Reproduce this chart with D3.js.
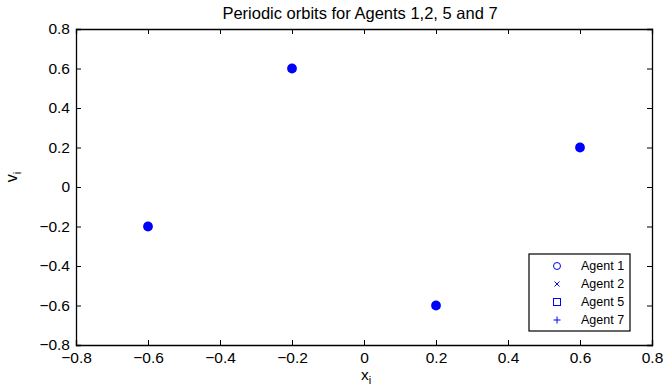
<!DOCTYPE html>
<html>
<head>
<meta charset="utf-8">
<script src="https://cdn.jsdelivr.net/npm/d3@7"></script>
<style>
  body { margin: 0; background: #fff; }
  svg { font-family: "Liberation Sans", Arial, sans-serif; }
</style>
</head>
<body>
<svg id="chart" width="664" height="388"></svg>
<script>
// periodic orbit points (same for every agent)
const agents = ["Agent 1", "Agent 2", "Agent 5", "Agent 7"];
const markers = ["circle", "x", "square", "plus"];
const orbitX = [-0.2, 0.6, -0.6, 0.2];
const orbitV = [0.6, 0.2, -0.2, -0.6];
const xTicks = [-0.8, -0.6, -0.4, -0.2, 0, 0.2, 0.4, 0.6, 0.8];
const yTicks = [-0.8, -0.6, -0.4, -0.2, 0, 0.2, 0.4, 0.6, 0.8];

const margin = { top: 29, right: 12, bottom: 43, left: 76 },
    width = 664 - margin.left - margin.right,
    height = 388 - margin.top - margin.bottom;

const svg = d3.select("#chart");
const g = svg.append("g").attr("transform", `translate(${margin.left},${margin.top})`);

const x = d3.scaleLinear().domain([-0.8, 0.8]).range([0, width]);
const y = d3.scaleLinear().domain([-0.8, 0.8]).range([height, 0]);

const fmt = d => d === 0 ? "0" : d3.format(".1f")(d).replace("-", "\u2212");

// axes with inward ticks, MATLAB box style
g.append("g").attr("transform", `translate(0,${height})`)
    .call(d3.axisBottom(x).tickValues(xTicks).tickSize(-5).tickPadding(7).tickFormat(fmt));
g.append("g")
    .call(d3.axisLeft(y).tickValues(yTicks).tickSize(-5).tickPadding(6).tickFormat(fmt));
g.append("g")
    .call(d3.axisTop(x).tickValues(xTicks).tickSize(-5).tickFormat(""));
g.append("g").attr("transform", `translate(${width},0)`)
    .call(d3.axisRight(y).tickValues(yTicks).tickSize(-5).tickFormat(""));

g.selectAll(".domain").attr("stroke", "#000").attr("stroke-width", 1.3);
g.selectAll(".tick line").attr("stroke", "#000");
g.selectAll(".tick text").style("font-size", "15.5px").attr("fill", "#000");

// marker drawing
function drawMarker(sel, type, s) {
    if (type === "circle") {
        sel.append("circle").attr("r", s).attr("fill", "none");
    } else if (type === "square") {
        sel.append("rect").attr("x", -s).attr("y", -s).attr("width", 2 * s).attr("height", 2 * s).attr("fill", "none");
    } else if (type === "x") {
        sel.append("path").attr("d", `M${-s},${-s}L${s},${s}M${-s},${s}L${s},${-s}`);
    } else {
        sel.append("path").attr("d", `M${-s},0L${s},0M0,${-s}L0,${s}`);
    }
}

const plotSize = { circle: 3.4, x: 2.6, square: 2.4, plus: 3.6 };
const points = orbitX.map((d, i) => ({ x: d, v: orbitV[i] }));
agents.forEach((a, k) => {
    points.forEach(p => {
        const m = g.append("g")
            .attr("transform", `translate(${x(p.x)},${y(p.v)})`)
            .attr("stroke", "#0000ff").attr("stroke-width", k === 0 ? 3 : 2.2);
        drawMarker(m, markers[k], plotSize[markers[k]]);
    });
});

// legend
const legend = svg.append("g").attr("transform", "translate(529,254)");
legend.append("rect").attr("width", 101).attr("height", 77)
    .attr("fill", "#fff").attr("stroke", "#000").attr("stroke-width", 1.2);
agents.forEach((a, k) => {
    const row = legend.append("g").attr("transform", `translate(0,${12 + k * 18})`);
    const m = row.append("g").attr("transform", "translate(28,0)")
        .attr("stroke", "#0000ff").attr("stroke-width", 1);
    drawMarker(m, markers[k], markers[k] === "x" ? 2.5 : 3.5);
    row.append("text").attr("x", 52).attr("dy", "0.35em")
        .style("font-size", "12.5px").text(a);
});

// title and axis labels
svg.append("text").attr("x", margin.left + width / 2 - 4).attr("y", 19)
    .attr("text-anchor", "middle").style("font-size", "16.5px").text("Periodic orbits for Agents 1,2, 5 and 7");

const xl = svg.append("text").attr("x", margin.left + width / 2 + 2).attr("y", 380)
    .attr("text-anchor", "middle").style("font-size", "15.5px");
xl.append("tspan").text("x");
xl.append("tspan").attr("dy", 4).style("font-size", "11px").text("i");

const yl = svg.append("text").attr("transform", `translate(17,${margin.top + height / 2 - 10}) rotate(-90)`)
    .attr("text-anchor", "middle").style("font-size", "16px");
yl.append("tspan").text("v");
yl.append("tspan").attr("dy", 4).style("font-size", "11px").text("i");
</script>
</body>
</html>
